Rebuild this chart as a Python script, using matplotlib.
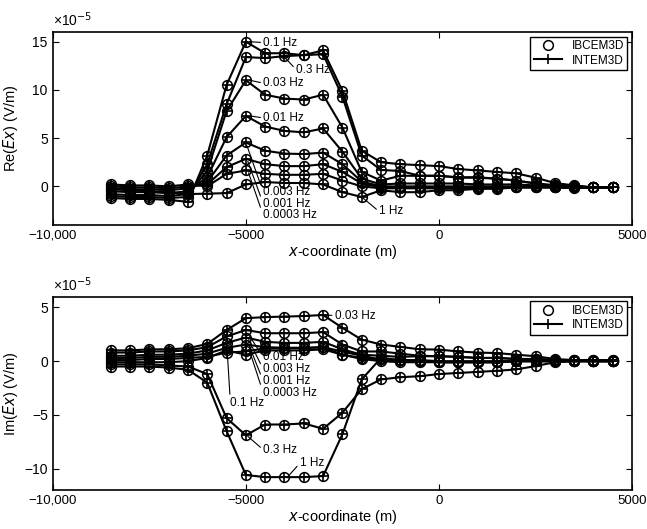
import matplotlib
matplotlib.use('Agg')
from matplotlib import pyplot as plt
from matplotlib import font_manager
from matplotlib.lines import Line2D

font = {'family': ['Liberation Sans', 'DejaVu Sans'], 'size': 10}
matplotlib.rc('font', **font)

names = {f.name for f in font_manager.fontManager.ttflist}
note_family = 'Liberation Sans Narrow' if 'Liberation Sans Narrow' in names else 'Liberation Sans'
note_size = 9.5 if note_family == 'Liberation Sans Narrow' else 8.5

x = [-8500, -8000, -7500, -7000, -6500, -6000, -5500, -5000, -4500, -4000,
     -3500, -3000, -2500, -2000, -1500, -1000, -500, 0, 500, 1000,
     1500, 2000, 2500, 3000, 3500, 4000, 4500]

freqs = ['0.0003 Hz', '0.001 Hz', '0.003 Hz', '0.01 Hz', '0.03 Hz', '0.1 Hz', '0.3 Hz', '1 Hz']

# Re(Ex), units of 1e-5 V/m
re_0p0003 = [0.2, 0.1, 0.1, 0.0, 0.2, 0.0, 1.3, 1.65, 1.3, 1.2, 1.2, 1.3, 0.6, 0.0,
             -0.2, -0.2, -0.2, -0.2, -0.2, -0.2, -0.2, -0.1, -0.1, -0.1, -0.1, -0.1, -0.1]
re_0p001 = [0.0, -0.1, -0.1, -0.2, 0.0, 0.2, 2.0, 2.85, 2.3, 2.1, 2.1, 2.3, 1.5, 0.3,
            -0.1, -0.1, -0.1, -0.1, -0.1, -0.1, -0.1, -0.1, -0.1, -0.1, -0.1, -0.1, -0.1]
re_0p003 = [-0.2, -0.3, -0.3, -0.4, -0.2, 0.45, 3.2, 4.55, 3.7, 3.4, 3.35, 3.5, 2.3, 0.5,
            0.0, 0.0, 0.0, 0.0, 0.0, 0.0, 0.0, 0.0, 0.0, -0.1, -0.1, -0.1, -0.1]
re_0p01 = [-0.5, -0.6, -0.6, -0.7, -0.5, 0.95, 5.1, 7.3, 6.2, 5.75, 5.6, 6.0, 3.6, 0.8,
           0.2, 0.3, 0.3, 0.3, 0.3, 0.2, 0.2, 0.2, 0.1, 0.0, 0.0, -0.1, -0.1]
re_0p03 = [-0.8, -0.9, -0.9, -1.0, -0.8, 1.6, 7.8, 11.0, 9.5, 9.1, 9.0, 9.5, 6.1, 1.5,
           0.6, 1.1, 1.1, 1.1, 0.9, 0.9, 0.8, 0.6, 0.3, 0.1, 0.0, -0.1, -0.1]
re_0p1 = [-1.2, -1.3, -1.3, -1.4, -1.6, 3.2, 10.5, 15.0, 13.8, 13.8, 13.6, 14.1, 9.9, 3.7,
          2.5, 2.3, 2.2, 2.1, 1.8, 1.65, 1.5, 1.35, 0.9, 0.35, 0.1, -0.1, -0.1]
re_0p3 = [-1.0, -1.1, -1.1, -1.2, -1.1, 2.3, 8.5, 13.4, 13.3, 13.5, 13.6, 13.7, 9.3, 3.2,
          1.7, 1.6, 1.1, 1.1, 0.95, 0.95, 0.8, 0.6, 0.3, 0.1, 0.0, -0.1, -0.1]
re_1 = [-0.3, -0.4, -0.5, -0.6, -0.8, -0.75, -0.7, 0.2, 0.45, 0.35, 0.35, 0.2, -0.6, -1.1,
        -0.4, -0.6, -0.6, -0.4, -0.4, -0.25, -0.25, -0.1, -0.1, -0.1, -0.2, -0.1, -0.1]

# Im(Ex), units of 1e-5 V/m
im_0p0003 = [0.1, 0.1, 0.2, 0.2, 0.3, 0.4, 0.8, 0.9, 1.2, 1.2, 1.2, 1.3, 0.6, 0.3,
             0.16, 0.1, 0.0, -0.1, -0.1, -0.1, -0.1, 0.0, 0.0, 0.0, 0.0, 0.0, 0.0]
im_0p001 = [0.3, 0.3, 0.4, 0.4, 0.5, 0.7, 1.24, 1.55, 1.3, 1.25, 1.25, 1.3, 0.9, 0.5,
            0.16, 0.1, 0.1, 0.0, 0.0, 0.0, 0.0, 0.0, 0.0, 0.0, 0.0, 0.0, 0.0]
im_0p003 = [0.5, 0.5, 0.6, 0.6, 0.7, 1.0, 1.7, 2.2, 1.8, 1.7, 1.7, 1.8, 1.1, 0.6,
            0.5, 0.4, 0.46, 0.46, 0.4, 0.3, 0.3, 0.2, 0.2, 0.1, 0.1, 0.0, 0.0]
im_0p01 = [0.8, 0.8, 0.9, 0.9, 1.0, 1.3, 2.3, 2.9, 2.6, 2.6, 2.6, 2.7, 1.55, 0.9,
           0.9, 0.7, 0.5, 0.46, 0.4, 0.3, 0.3, 0.2, 0.2, 0.1, 0.1, 0.1, 0.1]
im_0p03 = [1.0, 1.0, 1.1, 1.1, 1.2, 1.6, 2.9, 4.0, 4.1, 4.15, 4.2, 4.3, 3.1, 2.0,
           1.55, 1.33, 1.1, 1.08, 0.9, 0.8, 0.75, 0.6, 0.46, 0.2, 0.1, 0.1, 0.1]
im_0p1 = [-0.1, -0.1, -0.1, -0.1, 0.0, 0.3, 1.0, 0.6, 1.0, 1.0, 1.0, 1.1, 0.6, 0.2,
          0.0, -0.1, -0.1, -0.1, -0.1, -0.1, -0.1, 0.0, 0.0, 0.0, 0.0, 0.0, 0.0]
im_0p3 = [-0.3, -0.3, -0.3, -0.4, -0.5, -1.2, -5.3, -6.9, -5.9, -5.9, -5.8, -6.3, -4.8, -2.6,
          -1.7, -1.5, -1.4, -1.2, -1.1, -1.0, -0.9, -0.77, -0.46, -0.1, 0.0, 0.0, 0.0]
im_1 = [-0.5, -0.5, -0.5, -0.6, -0.8, -2.0, -6.5, -10.6, -10.8, -10.8, -10.8, -10.7, -6.8, -1.7,
        0.3, 0.1, 0.0, -0.1, -0.1, -0.1, -0.1, 0.0, 0.0, 0.0, 0.0, 0.0, 0.0]

re_curves = [re_0p0003, re_0p001, re_0p003, re_0p01, re_0p03, re_0p1, re_0p3, re_1]
im_curves = [im_0p0003, im_0p001, im_0p003, im_0p01, im_0p03, im_0p1, im_0p3, im_1]

# (label, point, text position)
re_notes = [('0.1 Hz', (-4900, 15.0), (-4550, 14.9)),
            ('0.3 Hz', (-4000, 13.4), (-3700, 12.1)),
            ('0.03 Hz', (-4900, 11.0), (-4550, 10.7)),
            ('0.01 Hz', (-4900, 7.3), (-4550, 7.1)),
            ('0.003 Hz', (-4970, 4.2), (-4550, -0.6)),
            ('0.001 Hz', (-4950, 2.6), (-4550, -1.8)),
            ('0.0003 Hz', (-4930, 1.4), (-4550, -3.0)),
            ('1 Hz', (-2000, -1.1), (-1550, -2.6))]
im_notes = [('0.03 Hz', (-2950, 4.3), (-2700, 4.25)),
            ('0.01 Hz', (-4950, 2.6), (-4550, 0.35)),
            ('0.003 Hz', (-4930, 2.0), (-4550, -0.75)),
            ('0.001 Hz', (-4910, 1.4), (-4550, -1.85)),
            ('0.0003 Hz', (-4890, 0.8), (-4550, -2.95)),
            ('0.1 Hz', (-5480, 0.8), (-5400, -3.9)),
            ('0.3 Hz', (-4950, -7.0), (-4550, -8.25)),
            ('1 Hz', (-3900, -10.7), (-3600, -9.5))]


def draw_panel(ax, curves, notes, ylim, yticks, ylabel):
    for vals in curves:
        ax.plot(x, vals, color='black', lw=1.5, marker='+', ms=7, mew=1.2)
        ax.plot(x, vals, ls='none', marker='o', ms=7, mfc='none', mec='black', mew=1.1)
    for lab, pt, tp in notes:
        ax.annotate(lab, xy=pt, xytext=tp, fontsize=note_size, family=note_family,
                    va='center', ha='left',
                    arrowprops=dict(arrowstyle='-', lw=0.8, color='black',
                                    shrinkA=0, shrinkB=0, relpos=(0, 0.5)))
    ax.set_xlim(-10000, 5000)
    ax.set_ylim(*ylim)
    ax.set_xticks([-10000, -5000, 0, 5000])
    ax.set_xticklabels(['\u221210,000', '\u22125000', '0', '5000'])
    ax.set_yticks(yticks)
    ax.tick_params(direction='in', top=True, right=True, labelsize=10, length=4)
    ax.tick_params(axis='x', labelsize=9.5)
    ax.set_xlabel('$\\it{x}$-coordinate (m)', fontsize=10.5, labelpad=1)
    ax.set_ylabel(ylabel, fontsize=10.5)
    ax.yaxis.set_label_coords(-0.056, 0.5)
    ax.text(0, 1.03, '\u00d710$^{-5}$', transform=ax.transAxes, fontsize=10)
    for s in ax.spines.values():
        s.set_linewidth(1.2)
    handles = [Line2D([], [], ls='none', marker='o', ms=7, mfc='none', mec='black', mew=1.1),
               Line2D([], [], color='black', lw=1.5, marker='+', ms=7, mew=1.2)]
    leg = ax.legend(handles, ['IBCEM3D', 'INTEM3D'], loc='upper right', fontsize=8.5,
                    fancybox=False, edgecolor='black', framealpha=1,
                    borderaxespad=0.4, handlelength=2.4, borderpad=0.3, labelspacing=0.2)
    leg.get_frame().set_linewidth(1.0)


fig = plt.figure(figsize=(6.47, 5.29), dpi=100)
ax1 = fig.add_axes([0.0815, 0.5747, 0.8955, 0.3648])
ax2 = fig.add_axes([0.0815, 0.0737, 0.8955, 0.3654])

draw_panel(ax1, re_curves, re_notes, (-4, 16), [0, 5, 10, 15], 'Re($\\it{Ex}$) (V/m)')
draw_panel(ax2, im_curves, im_notes, (-12, 6), [-10, -5, 0, 5], 'Im($\\it{Ex}$) (V/m)')

fig.savefig('out.png', dpi=100)
